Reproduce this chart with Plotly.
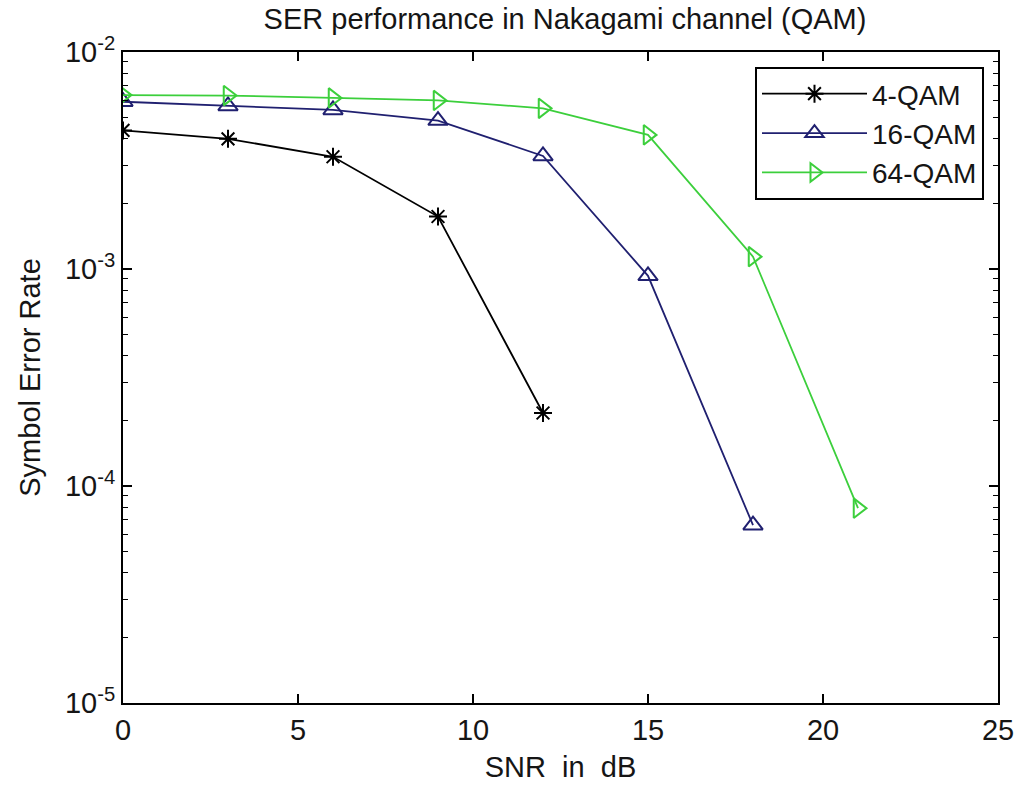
import plotly.graph_objects as go

# SNR points (dB) and measured symbol error rates
snr_4qam = [0, 3, 6, 9, 12]
ser_4qam = [4.35e-3, 3.98e-3, 3.29e-3, 1.745e-3, 2.17e-4]

snr_16qam = [0, 3, 6, 9, 12, 15, 18]
ser_16qam = [5.9e-3, 5.64e-3, 5.41e-3, 4.83e-3, 3.32e-3, 9.3e-4, 6.6e-5]

snr_64qam = [0, 3, 6, 9, 12, 15, 18, 21]
ser_64qam = [6.33e-3, 6.3e-3, 6.14e-3, 5.98e-3, 5.5e-3, 4.15e-3, 1.14e-3, 7.9e-5]

x_ticks = [0, 5, 10, 15, 20, 25]
y_ticks = [1e-5, 1e-4, 1e-3, 1e-2]
y_tick_text = ["10<sup>-5</sup>", "10<sup>-4</sup>", "10<sup>-3</sup>", "10<sup>-2</sup>"]

FONT = "Liberation Sans, Arial, sans-serif"
FS = 29
TXT = "#151515"

fig = go.Figure()
fig.add_trace(go.Scatter(
    x=snr_4qam, y=ser_4qam, name="4-QAM", mode="lines+markers",
    line=dict(color="black", width=1.8),
    marker=dict(symbol="asterisk-open", size=15, color="black", line=dict(width=2, color="black")),
))
fig.add_trace(go.Scatter(
    x=snr_16qam, y=ser_16qam, name="16-QAM", mode="lines+markers",
    line=dict(color="#202070", width=1.8),
    marker=dict(symbol="triangle-up-open", size=17, color="#202070", line=dict(width=2, color="#202070")),
))
fig.add_trace(go.Scatter(
    x=snr_64qam, y=ser_64qam, name="64-QAM", mode="lines+markers",
    line=dict(color="#3ccf3c", width=1.8),
    marker=dict(symbol="triangle-right-open", size=17, color="#3ccf3c", line=dict(width=2, color="#3ccf3c")),
))

axis_common = dict(
    showline=True, linecolor="black", linewidth=2, mirror="ticks",
    ticks="inside", ticklen=9, tickwidth=1.5, tickcolor="black",
    showgrid=False, zeroline=False,
    tickfont=dict(family=FONT, size=FS, color=TXT),
)

fig.update_xaxes(
    range=[0, 25], tickmode="array", tickvals=x_ticks,
    title=dict(text="SNR\u00a0 in\u00a0 dB", font=dict(family=FONT, size=FS, color=TXT), standoff=12),
    **axis_common,
)
fig.update_yaxes(
    type="log", range=[-5, -2], tickmode="array", tickvals=y_ticks, ticktext=y_tick_text,
    minor=dict(ticks="inside", ticklen=5, tickwidth=1.2, tickcolor="black", dtick="D1", showgrid=False),
    title=dict(text="Symbol Error Rate", font=dict(family=FONT, size=FS, color=TXT), standoff=16),
    **axis_common,
)

fig.update_layout(
    width=1026, height=790,
    margin=dict(l=123, r=19, t=52, b=86),
    paper_bgcolor="white", plot_bgcolor="white",
    title=dict(text="SER performance in Nakagami channel (QAM)", x=0.5507, xanchor="center",
               y=0.976, yanchor="middle", font=dict(family=FONT, size=FS, color=TXT)),
    legend=dict(x=0.984, y=0.977, xanchor="right", yanchor="top",
                bgcolor="white", bordercolor="black", borderwidth=2,
                font=dict(family=FONT, size=28, color=TXT), itemwidth=105,
                tracegroupgap=0),
    showlegend=True,
)

fig.write_html("out.html")
